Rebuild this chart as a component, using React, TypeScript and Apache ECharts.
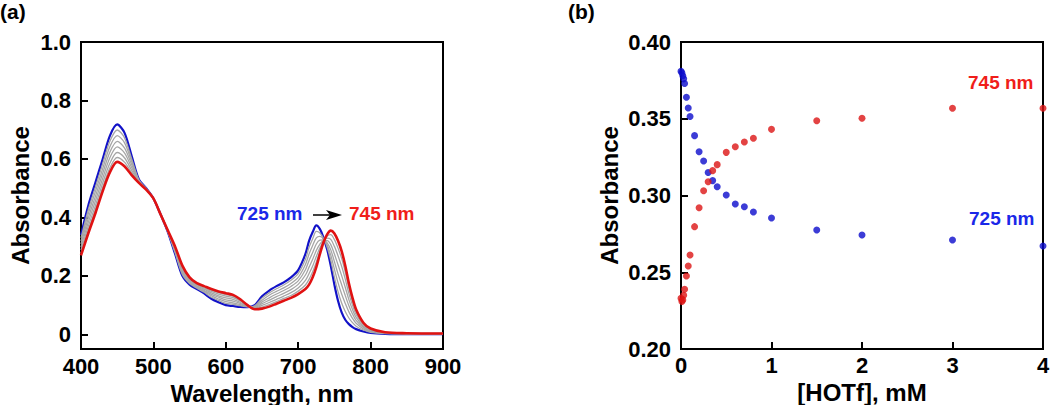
import React, { useEffect, useRef } from "react";
import * as echarts from "echarts";

// ---------- Panel (a): UV-vis spectra ----------
const wavelengths = [
  400, 410, 420, 430, 440, 450, 460, 470, 480, 490, 500,
  510, 520, 530, 540, 550, 560, 570, 580, 590, 600,
  610, 620, 630, 640, 650, 660, 670, 680, 690, 700,
  710, 715, 720, 725, 730, 735, 740, 745, 750, 755, 760, 765, 770, 775, 780,
  790, 800, 820, 850, 900,
];

const specInitial = [
  0.34, 0.44, 0.52, 0.6, 0.68, 0.718, 0.69, 0.61, 0.53, 0.5, 0.465,
  0.41, 0.35, 0.275, 0.2, 0.17, 0.155, 0.14, 0.122, 0.11, 0.1,
  0.097, 0.094, 0.093, 0.1, 0.13, 0.15, 0.165, 0.178, 0.195, 0.22,
  0.275, 0.32, 0.35, 0.373, 0.36, 0.33, 0.29, 0.235, 0.17, 0.115, 0.075, 0.05, 0.035, 0.025, 0.018,
  0.01, 0.005, 0.002, 0.001, 0.001,
];

const specStep1 = [
  0.33, 0.426, 0.504, 0.584, 0.661, 0.699, 0.673, 0.6, 0.528, 0.499, 0.465,
  0.41, 0.351, 0.279, 0.205, 0.174, 0.158, 0.144, 0.127, 0.116, 0.106,
  0.103, 0.098, 0.094, 0.098, 0.124, 0.142, 0.156, 0.169, 0.185, 0.208,
  0.257, 0.298, 0.327, 0.352, 0.347, 0.328, 0.298, 0.253, 0.196, 0.146, 0.107, 0.078, 0.056, 0.04, 0.028,
  0.015, 0.007, 0.003, 0.002, 0.001,
];

const specStep2 = [
  0.319, 0.412, 0.489, 0.567, 0.643, 0.68, 0.656, 0.591, 0.526, 0.499, 0.465,
  0.41, 0.352, 0.283, 0.211, 0.178, 0.161, 0.148, 0.132, 0.121, 0.112,
  0.108, 0.102, 0.095, 0.096, 0.117, 0.134, 0.147, 0.159, 0.174, 0.195,
  0.239, 0.275, 0.304, 0.33, 0.335, 0.326, 0.306, 0.271, 0.223, 0.177, 0.138, 0.106, 0.077, 0.055, 0.038,
  0.019, 0.01, 0.004, 0.002, 0.002,
];

const specStep3 = [
  0.309, 0.397, 0.473, 0.551, 0.624, 0.66, 0.638, 0.581, 0.525, 0.498, 0.465,
  0.41, 0.352, 0.286, 0.216, 0.181, 0.164, 0.151, 0.137, 0.127, 0.118,
  0.114, 0.106, 0.096, 0.094, 0.111, 0.125, 0.138, 0.15, 0.164, 0.183,
  0.221, 0.253, 0.28, 0.309, 0.322, 0.323, 0.313, 0.289, 0.249, 0.207, 0.17, 0.133, 0.098, 0.07, 0.048,
  0.024, 0.012, 0.004, 0.003, 0.002,
];

const specStep4 = [
  0.298, 0.383, 0.457, 0.534, 0.605, 0.641, 0.621, 0.571, 0.523, 0.497, 0.465,
  0.41, 0.353, 0.29, 0.221, 0.185, 0.167, 0.155, 0.142, 0.132, 0.125,
  0.12, 0.11, 0.097, 0.092, 0.105, 0.117, 0.129, 0.14, 0.153, 0.171,
  0.203, 0.23, 0.257, 0.287, 0.309, 0.321, 0.321, 0.307, 0.275, 0.238, 0.201, 0.161, 0.119, 0.085, 0.058,
  0.028, 0.014, 0.005, 0.003, 0.002,
];

const specStep5 = [
  0.288, 0.369, 0.441, 0.518, 0.586, 0.622, 0.604, 0.561, 0.521, 0.496, 0.465,
  0.41, 0.354, 0.294, 0.226, 0.189, 0.17, 0.159, 0.147, 0.138, 0.131,
  0.126, 0.114, 0.098, 0.09, 0.099, 0.109, 0.12, 0.131, 0.143, 0.159,
  0.185, 0.208, 0.234, 0.266, 0.296, 0.319, 0.329, 0.325, 0.301, 0.269, 0.233, 0.189, 0.14, 0.1, 0.068,
  0.033, 0.016, 0.006, 0.003, 0.003,
];

const specStep6 = [
  0.278, 0.356, 0.428, 0.503, 0.57, 0.605, 0.589, 0.553, 0.519, 0.496, 0.465,
  0.41, 0.354, 0.297, 0.231, 0.192, 0.173, 0.162, 0.151, 0.143, 0.136,
  0.13, 0.117, 0.099, 0.088, 0.093, 0.102, 0.112, 0.123, 0.133, 0.148,
  0.169, 0.188, 0.214, 0.247, 0.285, 0.317, 0.336, 0.341, 0.324, 0.295, 0.26, 0.213, 0.158, 0.113, 0.077,
  0.036, 0.018, 0.006, 0.004, 0.003,
];

const specFinal = [
  0.27, 0.345, 0.415, 0.49, 0.555, 0.59, 0.575, 0.545, 0.518, 0.495, 0.465,
  0.41, 0.355, 0.3, 0.235, 0.195, 0.175, 0.165, 0.155, 0.147, 0.141,
  0.135, 0.12, 0.1, 0.086, 0.088, 0.095, 0.105, 0.115, 0.125, 0.138,
  0.155, 0.17, 0.195, 0.23, 0.275, 0.315, 0.342, 0.355, 0.345, 0.32, 0.285, 0.235, 0.175, 0.125, 0.085,
  0.04, 0.02, 0.007, 0.004, 0.003,
];

const grayCurves = [specStep1, specStep2, specStep3, specStep4, specStep5, specStep6];
const absTicksA = [0, 0.2, 0.4, 0.6, 0.8, 1.0];

// ---------- Panel (b): titration ----------
const hotfConc = [
  0, 0.01, 0.02, 0.03, 0.04, 0.06, 0.08, 0.1, 0.15, 0.2, 0.25, 0.3,
  0.35, 0.4, 0.5, 0.6, 0.7, 0.8, 1.0, 1.5, 2, 3, 4,
];
const abs725 = [
  0.381, 0.38, 0.378, 0.376, 0.373, 0.364, 0.357, 0.3515, 0.339, 0.3285, 0.3225, 0.315,
  0.3097, 0.3057, 0.3003, 0.2945, 0.2927, 0.2893, 0.2853, 0.2775, 0.2743, 0.271, 0.2671,
];
const abs745 = [
  0.233, 0.231, 0.232, 0.235, 0.2389, 0.2476, 0.2541, 0.2612, 0.2797, 0.292, 0.3031, 0.309,
  0.3162, 0.3201, 0.3281, 0.3318, 0.3349, 0.3373, 0.3431, 0.3487, 0.3503, 0.3568, 0.3568,
];

const FONT = "'Liberation Sans', Arial, Helvetica, sans-serif";
const LINE_BLUE = "#1212c8";
const LINE_RED = "#e01212";
const GRAY = "#a6a6a6";
const DOT_BLUE = "#0b0bcc";
const DOT_RED = "#dc1414";
const TEXT_BLUE = "#1a28e8";
const TEXT_RED = "#f01e1a";

const tickLabelBase = {
  fontSize: 22,
  fontWeight: "bold" as const,
  color: "#000",
  fontFamily: FONT,
};
const yTickLabel = { ...tickLabelBase, margin: 10 };
const axisTitle = {
  fontSize: 24,
  fontWeight: "bold" as const,
  color: "#000",
  fontFamily: FONT,
};
const tickStyle = { inside: true, length: 7, lineStyle: { color: "#000", width: 2 } };
const noLine = { show: false, onZero: false };

export default function App() {
  const ref = useRef<HTMLDivElement>(null);

  useEffect(() => {
    const chart = echarts.init(ref.current!, null, { renderer: "svg" });
    const pairs = (ys: number[]) => wavelengths.map((w, i) => [w, ys[i]]);

    const series: any[] = [];
    series.push({
      type: "line",
      xAxisIndex: 0,
      yAxisIndex: 0,
      data: pairs(specInitial),
      showSymbol: false,
      smooth: 0.3,
      lineStyle: { color: LINE_BLUE, width: 2.2 },
      z: 2,
    });
    grayCurves.forEach((g) =>
      series.push({
        type: "line",
        xAxisIndex: 0,
        yAxisIndex: 0,
        data: pairs(g),
        showSymbol: false,
        smooth: 0.3,
        lineStyle: { color: GRAY, width: 1.3 },
        z: 3,
      })
    );
    series.push({
      type: "line",
      xAxisIndex: 0,
      yAxisIndex: 0,
      data: pairs(specFinal),
      showSymbol: false,
      smooth: 0.3,
      lineStyle: { color: LINE_RED, width: 2.6 },
      z: 4,
    });
    series.push({
      type: "scatter",
      xAxisIndex: 1,
      yAxisIndex: 1,
      data: hotfConc.map((c, i) => [c, abs725[i]]),
      symbolSize: 7,
      itemStyle: { color: DOT_BLUE },
      clip: false,
    });
    series.push({
      type: "scatter",
      xAxisIndex: 1,
      yAxisIndex: 1,
      data: hotfConc.map((c, i) => [c, abs745[i]]),
      symbolSize: 7,
      itemStyle: { color: DOT_RED },
      clip: false,
    });

    const gridBase = {
      top: 42,
      width: 362,
      height: 307,
      show: true,
      borderColor: "#000",
      borderWidth: 2,
      backgroundColor: "transparent",
      containLabel: false,
      outerBoundsMode: "none",
    };

    const option: any = {
      animation: false,
      backgroundColor: "#fff",
      grid: [
        { ...gridBase, left: 81 },
        { ...gridBase, left: 681 },
      ],
      xAxis: [
        {
          type: "value",
          gridIndex: 0,
          min: 400,
          max: 900,
          interval: 100,
          axisLine: noLine,
          axisTick: tickStyle,
          axisLabel: { ...tickLabelBase, margin: 6 },
          splitLine: { show: false },
          name: "Wavelength, nm",
          nameLocation: "middle",
          nameGap: 32,
          nameMoveOverlap: false,
          nameTextStyle: axisTitle,
        },
        {
          type: "value",
          gridIndex: 1,
          min: 0,
          max: 4,
          interval: 1,
          axisLine: noLine,
          axisTick: tickStyle,
          axisLabel: { ...tickLabelBase, margin: 5 },
          splitLine: { show: false },
          name: "[HOTf], mM",
          nameLocation: "middle",
          nameGap: 31,
          nameMoveOverlap: false,
          nameTextStyle: axisTitle,
        },
      ],
      yAxis: [
        {
          type: "value",
          gridIndex: 0,
          min: -0.05,
          max: 1.0,
          axisLine: noLine,
          axisTick: { ...tickStyle, customValues: absTicksA },
          axisLabel: {
            ...yTickLabel,
            customValues: absTicksA,
            formatter: (v: number) => (Math.abs(v) < 1e-9 ? "0" : v.toFixed(1)),
          },
          splitLine: { show: false },
          name: "Absorbance",
          nameLocation: "middle",
          nameGap: 49,
          nameTextStyle: axisTitle,
        },
        {
          type: "value",
          gridIndex: 1,
          min: 0.2,
          max: 0.4,
          interval: 0.05,
          axisLine: noLine,
          axisTick: tickStyle,
          axisLabel: { ...yTickLabel, formatter: (v: number) => v.toFixed(2) },
          splitLine: { show: false },
          name: "Absorbance",
          nameLocation: "middle",
          nameGap: 60,
          nameTextStyle: axisTitle,
        },
      ],
      graphic: [
        { type: "text", x: 0, y: 1, style: { text: "(a)", fontSize: 21, fontWeight: "bold", fontFamily: FONT, fill: "#000", verticalAlign: "top" } },
        { type: "text", x: 568, y: 1, style: { text: "(b)", fontSize: 21, fontWeight: "bold", fontFamily: FONT, fill: "#000", verticalAlign: "top" } },
        { type: "text", x: 237, y: 213, style: { text: "725 nm", fontSize: 19, fontWeight: "bold", fontFamily: FONT, fill: TEXT_BLUE, verticalAlign: "middle" } },
        { type: "text", x: 349, y: 213, style: { text: "745 nm", fontSize: 19, fontWeight: "bold", fontFamily: FONT, fill: TEXT_RED, verticalAlign: "middle" } },
        { type: "line", shape: { x1: 313, y1: 215, x2: 331, y2: 215 }, style: { stroke: "#000", lineWidth: 1.5 } },
        { type: "polygon", shape: { points: [[342, 215], [326, 210], [330, 215], [326, 220]] }, style: { fill: "#000" } },
        { type: "text", x: 968, y: 82, style: { text: "745 nm", fontSize: 19, fontWeight: "bold", fontFamily: FONT, fill: TEXT_RED, verticalAlign: "middle" } },
        { type: "text", x: 969, y: 218, style: { text: "725 nm", fontSize: 19, fontWeight: "bold", fontFamily: FONT, fill: TEXT_BLUE, verticalAlign: "middle" } },
      ],
      series,
    };

    chart.setOption(option);
    return () => chart.dispose();
  }, []);

  return (
    <div
      ref={ref}
      style={{ position: "fixed", left: 0, top: 0, width: 1050, height: 405, background: "#fff" }}
    />
  );
}
